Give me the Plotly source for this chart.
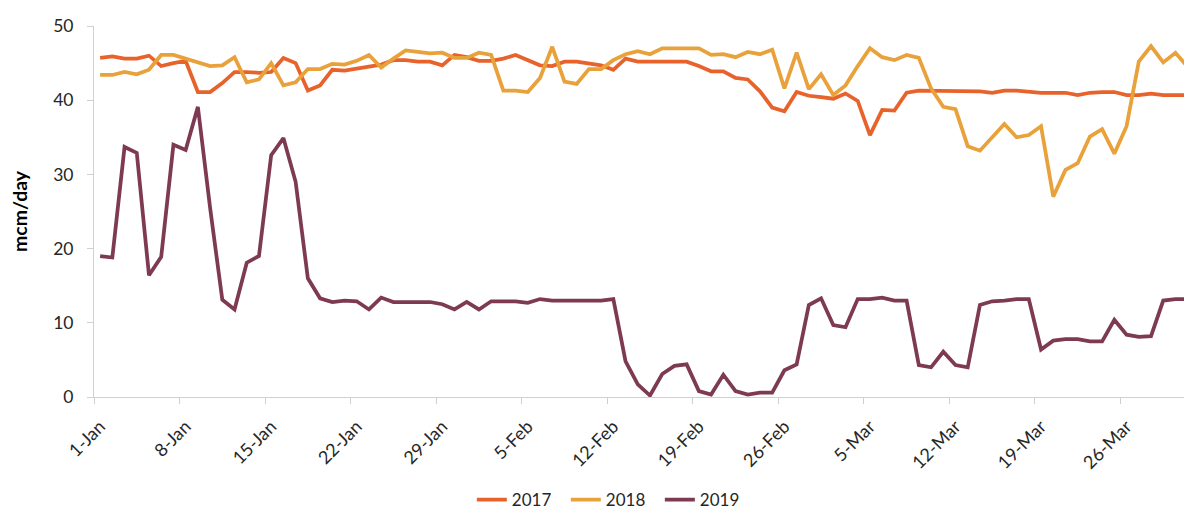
import pandas as pd
import plotly.graph_objects as go

# Categories: daily, 1-Jan to 31-Mar
categories = [f"{d.day}-{d.strftime('%b')}" for d in pd.date_range("2019-01-01", periods=90, freq="D")]

y2017 = [45.7, 45.9, 45.6, 45.6, 46.0, 44.6, 45.0, 45.3, 41.1, 41.1,
         42.3, 43.8, 43.8, 43.7, 43.8, 45.7, 45.0, 41.3, 42.0, 44.1,
         44.0, 44.3, 44.6, 44.8, 45.4, 45.4, 45.2, 45.2, 44.7, 46.1,
         45.8, 45.3, 45.3, 45.6, 46.1, 45.4, 44.7, 44.6, 45.2, 45.2,
         45.0, 44.7, 44.1, 45.6, 45.2, 45.2, 45.2, 45.2, 45.2, 44.6,
         43.9, 43.9, 43.0, 42.8, 41.2, 39.0, 38.5, 41.1, 40.6, 40.4,
         40.2, 40.9, 39.9, 35.3, 38.7, 38.6, 41.0, 41.3, 41.3, 41.3,
         41.3, 41.3, 41.2, 41.0, 41.3, 41.3, 41.1, 41.0, 41.0, 41.0,
         40.7, 41.0, 41.1, 41.1, 40.7, 40.7, 40.9, 40.7, 40.7, 40.7]

y2018 = [43.4, 43.4, 43.8, 43.5, 44.1, 46.1, 46.1, 45.6, 45.2, 44.6,
         44.7, 45.8, 42.4, 42.8, 45.0, 42.0, 42.4, 44.2, 44.2, 44.9,
         44.8, 45.3, 46.1, 44.4, 45.6, 46.7, 46.5, 46.3, 46.4, 45.7,
         45.7, 46.4, 46.1, 41.3, 41.3, 41.1, 43.0, 47.2, 42.5, 42.2,
         44.2, 44.2, 45.4, 46.2, 46.6, 46.2, 47.0, 47.0, 47.0, 47.0,
         46.1, 46.2, 45.8, 46.5, 46.2, 46.8, 41.6, 46.4, 41.5, 43.5,
         40.7, 42.0, 44.6, 47.0, 45.8, 45.4, 46.1, 45.7, 41.6, 39.1,
         38.8, 33.8, 33.2, 35.0, 36.8, 35.0, 35.3, 36.5, 27.0, 30.6,
         31.5, 35.1, 36.1, 32.8, 36.5, 45.2, 47.3, 45.1, 46.4, 44.5]

y2019 = [19.0, 18.8, 33.7, 32.9, 16.4, 18.9, 34.0, 33.3, 39.1, 25.5,
         13.1, 11.8, 18.1, 19.0, 32.6, 34.9, 29.0, 16.0, 13.3, 12.8,
         13.0, 12.9, 11.8, 13.4, 12.8, 12.8, 12.8, 12.8, 12.5, 11.8,
         12.8, 11.8, 12.9, 12.9, 12.9, 12.7, 13.2, 13.0, 13.0, 13.0,
         13.0, 13.0, 13.2, 4.8, 1.7, 0.2, 3.1, 4.2, 4.4, 0.8,
         0.34, 3.0, 0.8, 0.34, 0.6, 0.6, 3.6, 4.4, 12.4, 13.3,
         9.7, 9.4, 13.2, 13.2, 13.4, 13.0, 13.0, 4.3, 4.0, 6.1,
         4.3, 4.0, 12.4, 12.9, 13.0, 13.2, 13.2, 6.4, 7.6, 7.8,
         7.8, 7.5, 7.5, 10.4, 8.4, 8.1, 8.2, 13.0, 13.2, 13.2]

series = [("2017", y2017, "#E8632B"), ("2018", y2018, "#E9A13B"), ("2019", y2019, "#7D3A52")]

FONT = "Lato, 'Open Sans', sans-serif"
TXT = "#262626"
AXC = "#D0D0D0"

fig = go.Figure()
for name, vals, col in series:
    fig.add_trace(go.Scatter(x=categories, y=vals, mode="lines", name=name,
                             line=dict(color=col, width=3.75)))

fig.update_layout(
    width=1184, height=511,
    margin=dict(l=94, r=0, t=26, b=114),
    plot_bgcolor="white", paper_bgcolor="white",
    font=dict(family=FONT, size=17, color=TXT),
    showlegend=True,
    legend=dict(orientation="h", x=0.476, xanchor="center", y=(511 - 500) / 511, yanchor="middle",
                yref="container", font=dict(size=17, color=TXT), traceorder="normal",
                entrywidth=49),
    xaxis=dict(type="category", range=[-0.5, 88.7], tickmode="linear", tick0=0, dtick=7,
               tickson="boundaries", ticks="outside", ticklen=6, tickcolor=AXC,
               ticklabelstandoff=11,
               showline=True, linecolor=AXC, linewidth=1, showgrid=False,
               tickangle=-45, tickfont=dict(size=18, color=TXT)),
    yaxis=dict(range=[0, 50], tickmode="linear", tick0=0, dtick=10,
               ticks="outside", ticklen=6, tickcolor=AXC, ticklabelstandoff=10,
               showline=True, linecolor=AXC, linewidth=1, showgrid=False, zeroline=False,
               tickfont=dict(size=17.5, color=TXT),
               title=dict(text="<b>mcm/day</b>", font=dict(size=19.5, color="#000000"), standoff=20)),
)

fig.write_html("out.html", config={"displayModeBar": False},
               post_script="document.body.style.margin='0';document.body.style.overflow='hidden';")
